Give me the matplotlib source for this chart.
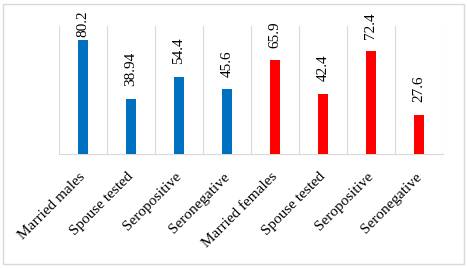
import matplotlib.pyplot as plt
from matplotlib.patches import Rectangle
from matplotlib.transforms import ScaledTranslation

# categories and values
categories = ['Married males', 'Spouse tested', 'Seropositive', 'Seronegative',
              'Married females', 'Spouse tested', 'Seropositive', 'Seronegative']
values = [80.2, 38.94, 54.4, 45.6, 65.9, 42.4, 72.4, 27.6]
value_labels = ['80.2', '38.94', '54.4', '45.6', '65.9', '42.4', '72.4', '27.6']
bar_colors = ['#0070C0'] * 4 + ['#FF0000'] * 4

plt.rcParams['font.family'] = ['Liberation Serif', 'DejaVu Serif']

fig = plt.figure(figsize=(4.67, 2.68), dpi=100)
ax = fig.add_axes([0.1263, 0.4254, 0.8223, 0.4776])

x = range(len(values))
ax.bar(x, values, width=0.19, color=bar_colors, zorder=3)

# labels sit a gap above the bar, but are kept inside the chart at the top
label_gap = 8.8
label_cap = 82.3
for xi, v, lab in zip(x, values, value_labels):
    ax.text(xi, min(v + label_gap, label_cap), lab, rotation=90,
            ha='center', va='bottom', fontsize=11, clip_on=False)

# vertical category separators
for b in range(len(values) + 1):
    ax.axvline(b - 0.5, color='#d9d9d9', linewidth=0.8, zorder=1)

ax.set_xlim(-0.5, len(values) - 0.5)
ax.set_ylim(0, 90)
ax.set_yticks([])
ax.set_xticks(list(x))
ax.set_xticklabels(categories, rotation=45, ha='right', rotation_mode='anchor',
                   fontsize=11)
ax.tick_params(axis='x', length=0, pad=6)
shift = ScaledTranslation(-4 / 100, -8 / 100, fig.dpi_scale_trans)
for t in ax.get_xticklabels():
    t.set_transform(t.get_transform() + shift)
for side in ['top', 'left', 'right']:
    ax.spines[side].set_visible(False)
ax.spines['bottom'].set_color('#d9d9d9')

# outer chart border
fig.patches.append(Rectangle((3 / 467, 4 / 268), 461 / 467, 260 / 268,
                             transform=fig.transFigure, fill=False,
                             edgecolor='#d9d9d9', linewidth=1))

fig.savefig('out.png', dpi=100)
